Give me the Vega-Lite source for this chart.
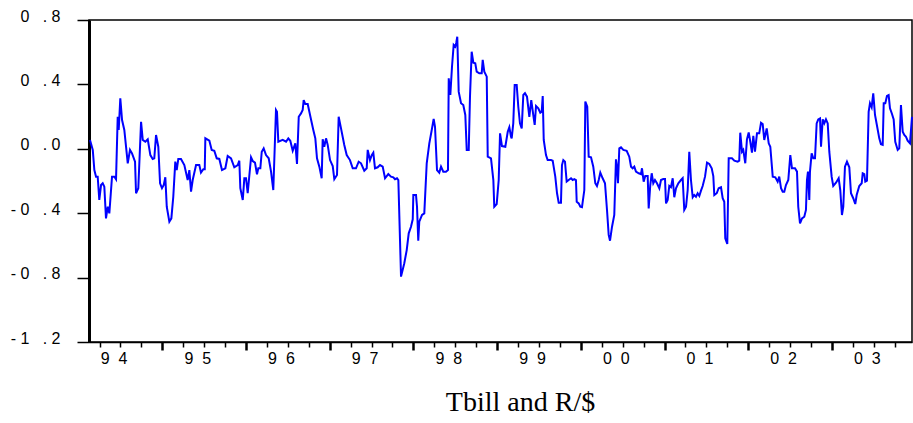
{
  "$schema": "https://vega.github.io/schema/vega-lite/v6.json",
  "width": 823,
  "height": 322,
  "autosize": {"type": "none"},
  "padding": {"left": 89, "top": 20, "right": 1, "bottom": 81},
  "background": "white",
  "config": {
    "view": {"stroke": "black", "strokeWidth": 1.5},
    "axis": {"grid": false, "domainColor": "black", "tickColor": "black", "labelColor": "black", "labelFont": "Liberation Sans", "labelFontSize": 16, "titleFontSize": 0}
  },
  "title": {
    "text": "Tbill and R/$",
    "orient": "bottom",
    "anchor": "middle",
    "dx": 20,
    "offset": 20,
    "font": "Liberation Serif",
    "fontSize": 28,
    "fontWeight": "normal",
    "color": "black"
  },
  "data": {
    "values": [
      {"t":1994.136,"v":0.055},{"t":1994.169,"v":-0.007},{"t":1994.188,"v":-0.132},{"t":1994.208,"v":-0.173},{"t":1994.228,"v":-0.173},
      {"t":1994.247,"v":-0.318},{"t":1994.268,"v":-0.225},{"t":1994.288,"v":-0.214},{"t":1994.307,"v":-0.235},{"t":1994.327,"v":-0.432},
      {"t":1994.348,"v":-0.360},{"t":1994.367,"v":-0.401},{"t":1994.399,"v":-0.173},{"t":1994.427,"v":-0.173},{"t":1994.447,"v":-0.189},
      {"t":1994.467,"v":0.199},{"t":1994.479,"v":0.117},{"t":1994.498,"v":0.314},{"t":1994.519,"v":0.179},{"t":1994.546,"v":0.117},
      {"t":1994.587,"v":-0.090},{"t":1994.614,"v":-0.007},{"t":1994.638,"v":-0.028},{"t":1994.674,"v":-0.080},{"t":1994.686,"v":-0.276},
      {"t":1994.713,"v":-0.245},{"t":1994.746,"v":0.168},{"t":1994.766,"v":0.055},{"t":1994.797,"v":0.044},{"t":1994.826,"v":0.059},
      {"t":1994.857,"v":-0.039},{"t":1994.885,"v":-0.063},{"t":1994.904,"v":-0.059},{"t":1994.925,"v":0.086},{"t":1994.952,"v":0.013},
      {"t":1994.973,"v":-0.214},{"t":1994.996,"v":-0.245},{"t":1995.017,"v":-0.225},{"t":1995.036,"v":-0.177},{"t":1995.053,"v":-0.360},
      {"t":1995.084,"v":-0.453},{"t":1995.108,"v":-0.432},{"t":1995.131,"v":-0.298},{"t":1995.155,"v":-0.080},{"t":1995.172,"v":-0.132},
      {"t":1995.191,"v":-0.063},{"t":1995.223,"v":-0.063},{"t":1995.263,"v":-0.101},{"t":1995.303,"v":-0.194},{"t":1995.323,"v":-0.132},
      {"t":1995.343,"v":-0.266},{"t":1995.363,"v":-0.194},{"t":1995.403,"v":-0.101},{"t":1995.442,"v":-0.101},{"t":1995.462,"v":-0.148},
      {"t":1995.490,"v":-0.127},{"t":1995.507,"v":-0.127},{"t":1995.514,"v":0.065},{"t":1995.562,"v":0.050},{"t":1995.590,"v":-0.007},
      {"t":1995.621,"v":-0.012},{"t":1995.650,"v":-0.059},{"t":1995.681,"v":-0.063},{"t":1995.713,"v":-0.132},{"t":1995.753,"v":-0.121},
      {"t":1995.781,"v":-0.045},{"t":1995.821,"v":-0.059},{"t":1995.860,"v":-0.115},{"t":1995.901,"v":-0.101},{"t":1995.920,"v":-0.074},
      {"t":1995.932,"v":-0.245},{"t":1995.961,"v":-0.318},{"t":1995.980,"v":-0.183},{"t":1996.000,"v":-0.183},{"t":1996.020,"v":-0.276},
      {"t":1996.060,"v":-0.053},{"t":1996.080,"v":-0.076},{"t":1996.107,"v":-0.086},{"t":1996.131,"v":-0.158},{"t":1996.147,"v":-0.121},
      {"t":1996.171,"v":-0.121},{"t":1996.188,"v":-0.018},{"t":1996.211,"v":0.003},{"t":1996.239,"v":-0.039},{"t":1996.271,"v":-0.059},
      {"t":1996.299,"v":-0.142},{"t":1996.326,"v":-0.256},{"t":1996.358,"v":0.241},{"t":1996.370,"v":0.230},{"t":1996.386,"v":0.044},
      {"t":1996.438,"v":0.055},{"t":1996.478,"v":0.044},{"t":1996.505,"v":0.065},{"t":1996.529,"v":0.050},{"t":1996.558,"v":-0.012},
      {"t":1996.589,"v":0.034},{"t":1996.609,"v":-0.094},{"t":1996.630,"v":0.199},{"t":1996.657,"v":0.220},{"t":1996.677,"v":0.241},
      {"t":1996.689,"v":0.303},{"t":1996.708,"v":0.278},{"t":1996.737,"v":0.278},{"t":1996.765,"v":0.210},{"t":1996.804,"v":0.117},
      {"t":1996.828,"v":0.065},{"t":1996.848,"v":-0.059},{"t":1996.876,"v":-0.111},{"t":1996.904,"v":-0.183},{"t":1996.916,"v":0.059},
      {"t":1996.935,"v":0.013},{"t":1996.956,"v":0.065},{"t":1996.976,"v":0.024},{"t":1997.004,"v":-0.070},{"t":1997.036,"v":-0.107},
      {"t":1997.055,"v":-0.189},{"t":1997.087,"v":-0.163},{"t":1997.107,"v":0.199},{"t":1997.135,"v":0.127},{"t":1997.174,"v":0.024},
      {"t":1997.203,"v":-0.039},{"t":1997.242,"v":-0.070},{"t":1997.275,"v":-0.121},{"t":1997.314,"v":-0.121},{"t":1997.346,"v":-0.080},
      {"t":1997.374,"v":-0.090},{"t":1997.413,"v":-0.136},{"t":1997.442,"v":-0.121},{"t":1997.454,"v":-0.007},{"t":1997.481,"v":-0.070},
      {"t":1997.502,"v":-0.039},{"t":1997.521,"v":-0.024},{"t":1997.541,"v":-0.121},{"t":1997.573,"v":-0.115},{"t":1997.601,"v":-0.101},
      {"t":1997.633,"v":-0.111},{"t":1997.661,"v":-0.183},{"t":1997.700,"v":-0.157},{"t":1997.732,"v":-0.173},{"t":1997.760,"v":-0.177},
      {"t":1997.780,"v":-0.189},{"t":1997.804,"v":-0.183},{"t":1997.820,"v":-0.194},{"t":1997.852,"v":-0.794},{"t":1997.891,"v":-0.711},
      {"t":1997.920,"v":-0.629},{"t":1997.944,"v":-0.525},{"t":1997.971,"v":-0.484},{"t":1997.992,"v":-0.438},{"t":1997.999,"v":-0.287},
      {"t":1998.031,"v":-0.287},{"t":1998.043,"v":-0.360},{"t":1998.058,"v":-0.571},{"t":1998.070,"v":-0.453},{"t":1998.103,"v":-0.411},
      {"t":1998.130,"v":-0.401},{"t":1998.159,"v":-0.090},{"t":1998.190,"v":0.034},{"t":1998.219,"v":0.117},{"t":1998.242,"v":0.185},
      {"t":1998.258,"v":0.137},{"t":1998.282,"v":-0.132},{"t":1998.309,"v":-0.148},{"t":1998.330,"v":-0.111},{"t":1998.357,"v":-0.142},
      {"t":1998.389,"v":-0.142},{"t":1998.413,"v":-0.132},{"t":1998.422,"v":0.438},{"t":1998.441,"v":0.334},{"t":1998.461,"v":0.510},
      {"t":1998.481,"v":0.645},{"t":1998.500,"v":0.634},{"t":1998.512,"v":0.659},{"t":1998.524,"v":0.696},{"t":1998.541,"v":0.355},
      {"t":1998.569,"v":0.283},{"t":1998.596,"v":0.272},{"t":1998.620,"v":0.210},{"t":1998.637,"v":-0.007},{"t":1998.661,"v":-0.007},
      {"t":1998.676,"v":0.324},{"t":1998.696,"v":0.603},{"t":1998.716,"v":0.535},{"t":1998.739,"v":0.531},{"t":1998.756,"v":0.479},
      {"t":1998.787,"v":0.469},{"t":1998.816,"v":0.469},{"t":1998.828,"v":0.552},{"t":1998.847,"v":0.479},{"t":1998.876,"v":0.448},
      {"t":1998.888,"v":-0.049},{"t":1998.927,"v":-0.059},{"t":1998.955,"v":-0.194},{"t":1998.966,"v":-0.360},{"t":1998.995,"v":-0.343},
      {"t":1999.019,"v":-0.194},{"t":1999.035,"v":0.096},{"t":1999.058,"v":0.017},{"t":1999.098,"v":0.013},{"t":1999.127,"v":0.106},
      {"t":1999.146,"v":0.134},{"t":1999.166,"v":0.075},{"t":1999.174,"v":0.065},{"t":1999.193,"v":0.158},{"t":1999.210,"v":0.396},
      {"t":1999.234,"v":0.396},{"t":1999.253,"v":0.261},{"t":1999.273,"v":0.158},{"t":1999.294,"v":0.127},{"t":1999.313,"v":0.334},
      {"t":1999.333,"v":0.345},{"t":1999.357,"v":0.324},{"t":1999.385,"v":0.199},{"t":1999.408,"v":0.303},{"t":1999.432,"v":0.210},
      {"t":1999.449,"v":0.148},{"t":1999.465,"v":0.266},{"t":1999.492,"v":0.252},{"t":1999.516,"v":0.224},{"t":1999.533,"v":0.230},
      {"t":1999.545,"v":0.328},{"t":1999.557,"v":0.055},{"t":1999.584,"v":-0.039},{"t":1999.604,"v":-0.070},{"t":1999.644,"v":-0.070},
      {"t":1999.664,"v":-0.074},{"t":1999.695,"v":-0.173},{"t":1999.716,"v":-0.276},{"t":1999.736,"v":-0.335},{"t":1999.763,"v":-0.335},
      {"t":1999.775,"v":-0.101},{"t":1999.791,"v":-0.070},{"t":1999.811,"v":-0.080},{"t":1999.831,"v":-0.204},{"t":1999.855,"v":-0.194},
      {"t":1999.883,"v":-0.183},{"t":1999.903,"v":-0.194},{"t":1999.922,"v":-0.189},{"t":1999.942,"v":-0.194},{"t":1999.951,"v":-0.329},
      {"t":1999.975,"v":-0.339},{"t":1999.994,"v":-0.360},{"t":2000.014,"v":-0.363},{"t":2000.042,"v":-0.256},{"t":2000.054,"v":0.293},
      {"t":2000.077,"v":0.261},{"t":2000.094,"v":-0.049},{"t":2000.122,"v":-0.053},{"t":2000.149,"v":-0.111},{"t":2000.173,"v":-0.214},
      {"t":2000.193,"v":-0.231},{"t":2000.214,"v":-0.194},{"t":2000.233,"v":-0.148},{"t":2000.261,"v":-0.183},{"t":2000.289,"v":-0.214},
      {"t":2000.313,"v":-0.380},{"t":2000.333,"v":-0.535},{"t":2000.349,"v":-0.571},{"t":2000.373,"v":-0.484},{"t":2000.400,"v":-0.411},
      {"t":2000.420,"v":-0.065},{"t":2000.432,"v":-0.111},{"t":2000.444,"v":-0.214},{"t":2000.460,"v":0.003},{"t":2000.480,"v":0.009},
      {"t":2000.508,"v":-0.007},{"t":2000.548,"v":-0.012},{"t":2000.579,"v":-0.049},{"t":2000.600,"v":-0.111},{"t":2000.620,"v":-0.121},
      {"t":2000.639,"v":-0.111},{"t":2000.659,"v":-0.142},{"t":2000.692,"v":-0.152},{"t":2000.719,"v":-0.157},{"t":2000.731,"v":-0.121},
      {"t":2000.751,"v":-0.204},{"t":2000.770,"v":-0.169},{"t":2000.799,"v":-0.169},{"t":2000.811,"v":-0.370},{"t":2000.830,"v":-0.225},
      {"t":2000.847,"v":-0.152},{"t":2000.866,"v":-0.214},{"t":2000.886,"v":-0.194},{"t":2000.910,"v":-0.214},{"t":2000.938,"v":-0.245},
      {"t":2000.958,"v":-0.194},{"t":2000.985,"v":-0.188},{"t":2001.006,"v":-0.188},{"t":2001.018,"v":-0.339},{"t":2001.038,"v":-0.318},
      {"t":2001.057,"v":-0.231},{"t":2001.077,"v":-0.239},{"t":2001.098,"v":-0.183},{"t":2001.117,"v":-0.301},{"t":2001.137,"v":-0.245},
      {"t":2001.165,"v":-0.214},{"t":2001.197,"v":-0.194},{"t":2001.217,"v":-0.183},{"t":2001.236,"v":-0.380},{"t":2001.257,"v":-0.360},
      {"t":2001.277,"v":-0.256},{"t":2001.296,"v":-0.018},{"t":2001.316,"v":-0.194},{"t":2001.337,"v":-0.301},{"t":2001.356,"v":-0.287},
      {"t":2001.376,"v":-0.298},{"t":2001.396,"v":-0.276},{"t":2001.416,"v":-0.293},{"t":2001.436,"v":-0.260},{"t":2001.456,"v":-0.231},
      {"t":2001.484,"v":-0.173},{"t":2001.508,"v":-0.086},{"t":2001.535,"v":-0.094},{"t":2001.564,"v":-0.121},{"t":2001.583,"v":-0.169},
      {"t":2001.595,"v":-0.287},{"t":2001.624,"v":-0.276},{"t":2001.647,"v":-0.245},{"t":2001.675,"v":-0.239},{"t":2001.695,"v":-0.307},
      {"t":2001.714,"v":-0.329},{"t":2001.726,"v":-0.556},{"t":2001.750,"v":-0.591},{"t":2001.767,"v":-0.059},{"t":2001.806,"v":-0.059},
      {"t":2001.834,"v":-0.074},{"t":2001.874,"v":-0.080},{"t":2001.893,"v":-0.074},{"t":2001.905,"v":0.100},{"t":2001.926,"v":-0.018},
      {"t":2001.941,"v":-0.007},{"t":2001.965,"v":-0.090},{"t":2001.985,"v":0.059},{"t":2002.006,"v":0.102},{"t":2002.025,"v":0.044},
      {"t":2002.045,"v":-0.024},{"t":2002.061,"v":0.080},{"t":2002.081,"v":-0.018},{"t":2002.105,"v":0.096},{"t":2002.132,"v":0.096},
      {"t":2002.153,"v":0.162},{"t":2002.173,"v":0.154},{"t":2002.192,"v":0.055},{"t":2002.221,"v":0.127},{"t":2002.245,"v":0.034},
      {"t":2002.264,"v":0.013},{"t":2002.293,"v":-0.173},{"t":2002.324,"v":-0.177},{"t":2002.352,"v":-0.204},{"t":2002.371,"v":-0.173},
      {"t":2002.392,"v":-0.245},{"t":2002.412,"v":-0.266},{"t":2002.431,"v":-0.266},{"t":2002.451,"v":-0.225},{"t":2002.479,"v":-0.194},
      {"t":2002.503,"v":-0.039},{"t":2002.523,"v":-0.121},{"t":2002.559,"v":-0.121},{"t":2002.583,"v":-0.142},{"t":2002.598,"v":-0.360},
      {"t":2002.619,"v":-0.463},{"t":2002.643,"v":-0.432},{"t":2002.670,"v":-0.422},{"t":2002.690,"v":-0.380},{"t":2002.702,"v":-0.194},
      {"t":2002.714,"v":-0.142},{"t":2002.730,"v":-0.318},{"t":2002.738,"v":-0.142},{"t":2002.758,"v":-0.028},{"t":2002.778,"v":-0.059},
      {"t":2002.798,"v":-0.059},{"t":2002.818,"v":0.158},{"t":2002.837,"v":0.183},{"t":2002.858,"v":0.189},{"t":2002.870,"v":0.013},
      {"t":2002.890,"v":0.183},{"t":2002.909,"v":0.158},{"t":2002.929,"v":0.183},{"t":2002.950,"v":0.158},{"t":2002.969,"v":-0.018},
      {"t":2002.997,"v":-0.173},{"t":2003.016,"v":-0.231},{"t":2003.049,"v":-0.211},{"t":2003.081,"v":-0.183},{"t":2003.100,"v":-0.256},
      {"t":2003.120,"v":-0.411},{"t":2003.136,"v":-0.360},{"t":2003.156,"v":-0.111},{"t":2003.180,"v":-0.080},{"t":2003.208,"v":-0.115},
      {"t":2003.228,"v":-0.276},{"t":2003.255,"v":-0.307},{"t":2003.279,"v":-0.343},{"t":2003.296,"v":-0.287},{"t":2003.327,"v":-0.231},
      {"t":2003.356,"v":-0.214},{"t":2003.368,"v":-0.152},{"t":2003.387,"v":-0.157},{"t":2003.399,"v":-0.204},{"t":2003.419,"v":-0.198},
      {"t":2003.439,"v":0.230},{"t":2003.455,"v":0.283},{"t":2003.475,"v":0.258},{"t":2003.494,"v":0.345},{"t":2003.515,"v":0.210},
      {"t":2003.535,"v":0.154},{"t":2003.566,"v":0.065},{"t":2003.586,"v":0.028},{"t":2003.607,"v":0.024},{"t":2003.619,"v":0.283},
      {"t":2003.638,"v":0.283},{"t":2003.658,"v":0.328},{"t":2003.678,"v":0.334},{"t":2003.694,"v":0.252},{"t":2003.718,"v":0.216},
      {"t":2003.738,"v":0.183},{"t":2003.757,"v":0.044},{"t":2003.786,"v":-0.007},{"t":2003.805,"v":0.003},{"t":2003.825,"v":0.272},
      {"t":2003.846,"v":0.106},{"t":2003.865,"v":0.086},{"t":2003.885,"v":0.075},{"t":2003.905,"v":0.050},{"t":2003.933,"v":0.034},
      {"t":2003.957,"v":0.198}
    ]
  },
  "mark": {"type": "line", "color": "#0000FF", "strokeWidth": 2, "interpolate": "linear"},
  "encoding": {
    "x": {
      "field": "t",
      "type": "quantitative",
      "scale": {"domain": [1994.124, 2003.957], "nice": false, "zero": false},
      "axis": {
        "title": null,
        "values": [1994.25,1994.5,1994.75,1995,1995.25,1995.5,1995.75,1996,1996.25,1996.5,1996.75,1997,1997.25,1997.5,1997.75,1998,1998.25,1998.5,1998.75,1999,1999.25,1999.5,1999.75,2000,2000.25,2000.5,2000.75,2001,2001.25,2001.5,2001.75,2002,2002.25,2002.5,2002.75,2003,2003.25,2003.5,2003.75],
        "domainWidth": 1.5,
        "tickSize": {"condition": {"test": "datum.value % 1 == 0", "value": 8}, "value": 5},
        "tickWidth": {"condition": {"test": "datum.value % 1 == 0", "value": 2.5}, "value": 1.5},
        "labelExpr": "datum.value % 1 == 0.25 ? (floor(datum.value) % 100 < 10 ? '0\u00a0\u00a0' + toString(floor(datum.value) % 100) : substring(toString(floor(datum.value) % 100), 0, 1) + '\u00a0\u00a0' + substring(toString(floor(datum.value) % 100), 1, 2)) : ''",
        "labelOffset": 14,
        "labelPadding": 3,
        "labelBaseline": "top",
        "labelAlign": "center",
        "labelOverlap": false,
        "labelFlush": false,
        "labelBound": false
      }
    },
    "y": {
      "field": "v",
      "type": "quantitative",
      "scale": {"domain": [-1.2, 0.8], "nice": false, "zero": false},
      "axis": {
        "title": null,
        "values": [-1.2, -0.8, -0.4, 0, 0.4, 0.8],
        "domainWidth": 3,
        "tickSize": 12,
        "tickWidth": 1.5,
        "labelPadding": 17,
        "labelOffset": -4,
        "labelBaseline": "middle",
        "labelAlign": "right",
        "labelOverlap": false,
        "labelFlush": false,
        "labelExpr": "(datum.value < -0.01 ? '-\u00a0' : '') + toString(floor(abs(datum.value) + 0.001)) + '\u00a0\u00a0\u00a0.\u00a0' + toString(round(abs(datum.value) * 10) % 10)"
      }
    }
  }
}
